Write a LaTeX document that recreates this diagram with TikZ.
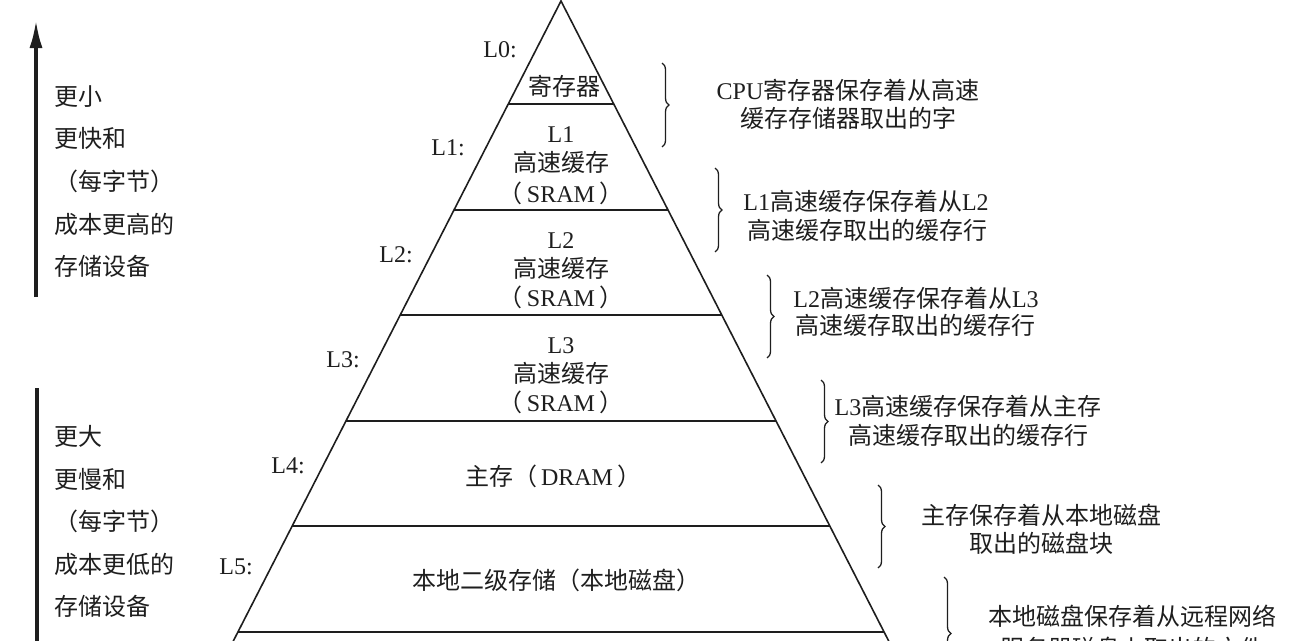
\documentclass[tikz,border=0pt]{standalone}
\usepackage{fontspec}
\setmainfont{Liberation Serif}
\newfontfamily\cjk{Noto Sans CJK SC}[Scale=1.0]
\usetikzlibrary{decorations.pathreplacing,arrows.meta}
\newcommand\zh[1]{{\cjk #1}}
\definecolor{ink}{HTML}{1E1E1E}
\begin{document}
\begin{tikzpicture}[x=1pt,y=-1pt,
  every node/.style={font=\fontsize{24}{28}\selectfont, inner sep=0pt, text height=19pt, text depth=5pt, text=ink},
  edge/.style={line width=1.6pt, draw=ink},
  bracestyle/.style={draw=ink, line width=1.3pt, decorate, decoration={brace, amplitude=7pt, aspect=0.5}},
  axisline/.style={draw=ink, line width=3.5pt}]
\useasboundingbox (0,0) rectangle (1289,640);
% pyramid
\coordinate (apex) at (561,1);
\coordinate (bl) at (228.7,650);
\coordinate (br) at (893.3,650);
\draw[edge] (bl) -- (apex) -- (br);
\foreach \y [count=\i] in {104,210,315,421,526,632}{
  \pgfmathsetmacro\h{0.512*(\y-1)}
  \coordinate (sl\i) at ({561-\h},\y);
  \coordinate (sr\i) at ({561+\h},\y);
  \draw[edge] (sl\i) -- (sr\i);
}
% level labels
\node (lab0) at (500,50) {L0:};
\node (lab1) at (448,148) {L1:};
\node (lab2) at (396,255) {L2:};
\node (lab3) at (343,360) {L3:};
\node (lab4) at (288,466) {L4:};
\node (lab5) at (236,567) {L5:};
% pyramid contents
\node (reg) at (564,88) {\zh{寄存器}};
\node (c1a) at (561,135) {L1};
\node (c1b) at (561,164) {\zh{高速缓存}};
\node (c1c) at (561,195) {\zh{（}\,SRAM\,\zh{）}};
\node (c2a) at (561,241) {L2};
\node (c2b) at (561,270) {\zh{高速缓存}};
\node (c2c) at (561,299) {\zh{（}\,SRAM\,\zh{）}};
\node (c3a) at (561,346) {L3};
\node (c3b) at (561,375) {\zh{高速缓存}};
\node (c3c) at (561,404) {\zh{（}\,SRAM\,\zh{）}};
\node (mem) at (553,478) {\zh{主存（}\,DRAM\,\zh{）}};
\node (disk) at (556,582) {\zh{本地二级存储（本地磁盘）}};
% left axis
\coordinate (up0) at (36,297);
\coordinate (up1) at (36,20);
\draw[axisline, -{Latex[length=28pt,width=13pt]}] (up0) -- (up1);
\coordinate (dn0) at (37,388);
\coordinate (dn1) at (37,650);
\draw[axisline] (dn0) -- (dn1);
\foreach \t/\y [count=\i] in {更小/98, 更快和/140, （每字节）/183, 成本更高的/226, 存储设备/268}
  \node[anchor=west] (u\i) at (54,\y) {\zh{\t}};
\foreach \t/\y [count=\i] in {更大/438, 更慢和/481, （每字节）/523, 成本更低的/566, 存储设备/608}
  \node[anchor=west] (d\i) at (54,\y) {\zh{\t}};
% braces
\foreach \x/\a/\b [count=\i] in {662/63/147, 715/168/252, 767/275/358, 821/380/463, 878/485/568, 944/577/690}{
  \coordinate (bt\i) at (\x,\a);
  \coordinate (bb\i) at (\x,\b);
  \draw[bracestyle] (bt\i) -- (bb\i);
}
% right texts
\node (r1a) at (848,92) {CPU\zh{寄存器保存着从高速}};
\node (r1b) at (848,120) {\zh{缓存存储器取出的字}};
\node (r2a) at (866,203) {L1\zh{高速缓存保存着从}L2};
\node (r2b) at (867,232) {\zh{高速缓存取出的缓存行}};
\node (r3a) at (916,300) {L2\zh{高速缓存保存着从}L3};
\node (r3b) at (915,327) {\zh{高速缓存取出的缓存行}};
\node (r4a) at (968,408) {L3\zh{高速缓存保存着从主存}};
\node (r4b) at (968,437) {\zh{高速缓存取出的缓存行}};
\node (r5a) at (1041,517) {\zh{主存保存着从本地磁盘}};
\node (r5b) at (1041,545) {\zh{取出的磁盘块}};
\node (r6a) at (1132,618) {\zh{本地磁盘保存着从远程网络}};
\node (r6b) at (1132,650) {\zh{服务器磁盘上取出的文件}};
\end{tikzpicture}
\end{document}
